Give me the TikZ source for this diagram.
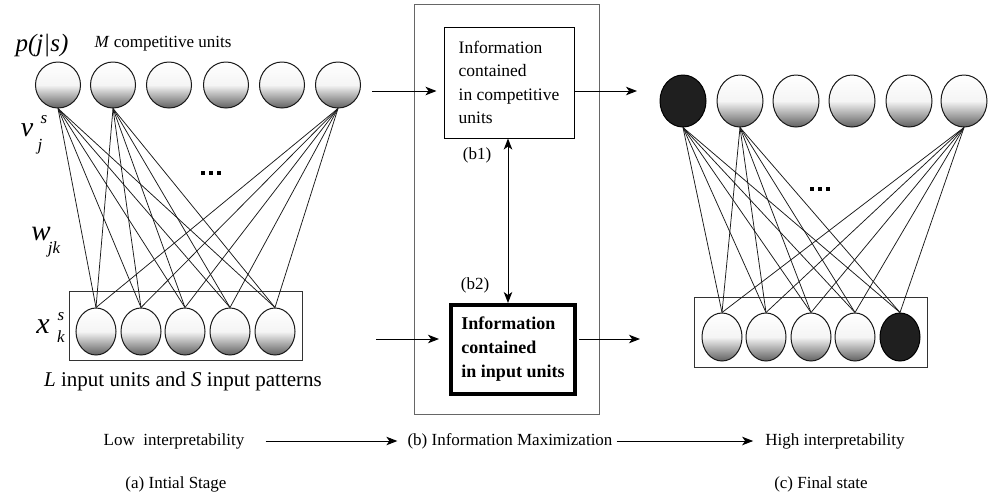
\documentclass[tikz,border=0pt]{standalone}
\usepackage{fontspec}
\setmainfont{Liberation Serif}[UprightFont=* ,BoldFont=* Bold,ItalicFont=* Italic,BoldItalicFont=* Bold Italic]
\usetikzlibrary{shapes.geometric,arrows.meta}
\begin{document}
\begin{tikzpicture}[x=1pt,y=-1pt,
  unit/.style={ellipse,draw=black!90,line width=1pt,inner sep=0pt,
    top color=white,bottom color=black!62,middle color=black!4},
  blackunit/.style={ellipse,draw=black,line width=1pt,inner sep=0pt,fill=black!88},
  topL/.style={minimum width=45pt,minimum height=46pt},
  topR/.style={minimum width=46pt,minimum height=52pt},
  botL/.style={minimum width=40pt,minimum height=47pt},
  botR/.style={minimum width=40pt,minimum height=48pt},
  inbox/.style={draw=black!80,line width=0.9pt,inner sep=0pt,minimum width=233pt,minimum height=69pt},
  conn/.style={line width=0.75pt,draw=black!90},
  arr/.style={line width=1pt,-{Stealth[length=11pt,width=8.5pt,inset=3pt]}},
  dblarr/.style={line width=1pt,{Stealth[length=11pt,width=8.5pt,inset=3pt]}-{Stealth[length=11pt,width=8.5pt,inset=3pt]}},
  txt/.style={inner sep=0pt,font=\rmfamily\fontsize{17}{21}\selectfont},
  dot/.style={fill=black,inner sep=0pt,minimum size=4.5pt}
]
\useasboundingbox (0,0) rectangle (988,496);

% ---------- left panel ----------
\node[inbox] (inL) at (185.5,325.5) {};
\foreach \i/\x in {1/58,2/113,3/169,4/226,5/282,6/338}
  \node[unit,topL] (a\i) at (\x,85) {};
\foreach \i/\x in {1/96,2/141,3/185,4/230,5/275}
  \node[unit,botL] (b\i) at (\x,331.5) {};
\foreach \t in {1,2,6}
  \foreach \b in {1,...,5}
    \draw[conn] (a\t.south) -- (b\b.north);
\node[dot] (dl1) at (203,173) {};
\node[dot] (dl2) at (211,173) {};
\node[dot] (dl3) at (219,173) {};

\node[inner sep=0pt,font=\rmfamily\fontsize{25}{25}\selectfont\itshape] (pjs) at (42,46) {p(j|s)};
\node[txt] (mcu) at (163,44) {\textit{M} competitive units};
\node[inner sep=0pt,font=\rmfamily\fontsize{28}{28}\selectfont\itshape] (vv) at (27,130) {v};
\node[inner sep=0pt,font=\rmfamily\fontsize{17}{17}\selectfont\itshape] (vs) at (44,120) {s};
\node[inner sep=0pt,font=\rmfamily\fontsize{17}{17}\selectfont\itshape] (vj) at (40,147) {j};
\node[inner sep=0pt,font=\rmfamily\fontsize{29}{29}\selectfont\itshape] (ww) at (41,234) {w};
\node[inner sep=0pt,font=\rmfamily\fontsize{17}{17}\selectfont\itshape] (wjk) at (54,249) {jk};
\node[inner sep=0pt,font=\rmfamily\fontsize{30}{30}\selectfont\itshape] (xx) at (43,327) {x};
\node[inner sep=0pt,font=\rmfamily\fontsize{17}{17}\selectfont\itshape] (xs) at (61,317) {s};
\node[inner sep=0pt,font=\rmfamily\fontsize{17}{17}\selectfont\itshape] (xk) at (61,337) {k};
\node[inner sep=0pt,font=\rmfamily\fontsize{21}{21}\selectfont] (lin) at (183,381) {\textit{L} input units and \textit{S} input patterns};

% ---------- middle panel ----------
\node[draw=black!60,line width=1pt,inner sep=0pt,minimum width=185pt,minimum height=410pt] (outer) at (506.5,209) {};
\node[draw=black,line width=1pt,inner sep=0pt,minimum width=130pt,minimum height=111pt,
      align=left,font=\rmfamily\fontsize{17.5}{23.5}\selectfont] (topbox) at (509,82.5)
      {Information\\contained\\in competitive\\units};
\node[draw=black,line width=4pt,inner sep=0pt,minimum width=124pt,minimum height=89pt,
      align=left,font=\rmfamily\fontsize{18}{24}\selectfont\bfseries] (botbox) at (513,349.5)
      {Information\\contained\\in input units};
\coordinate (inA) at (372,91);
\coordinate (outA) at (637,91);
\coordinate (inB) at (376,339);
\coordinate (outB) at (640,339);
\draw[arr,shorten >=7pt] (inA) -- (inA -| topbox.west);
\draw[arr] (topbox.east |- outA) -- (outA);
\draw[arr,shorten >=10pt] (inB) -- (inB -| botbox.west);
\draw[arr,shorten <=2pt] (botbox.east |- outB) -- (outB);
\draw[dblarr] (topbox.south -| 508,0) -- (botbox.north -| 508,0);
\node[txt] (lb1) at (477,155) {(b1)};
\node[txt] (lb2) at (475,285) {(b2)};

% ---------- right panel ----------
\node[inbox,minimum height=70pt] (inR) at (810.5,332) {};
\node[blackunit,topR] (c1) at (683,101) {};
\foreach \i/\x in {2/740,3/796,4/852,5/909,6/964}
  \node[unit,topR] (c\i) at (\x,101) {};
\foreach \i/\x in {1/722,2/766,3/811,4/855}
  \node[unit,botR] (d\i) at (\x,337) {};
\node[blackunit,botR] (d5) at (900,337) {};
\foreach \t in {1,2,6}
  \foreach \b in {1,...,5}
    \draw[conn] (c\t.south) -- (d\b.north);
\node[dot] (dr1) at (812,189) {};
\node[dot] (dr2) at (820,189) {};
\node[dot] (dr3) at (828,189) {};

% ---------- bottom captions ----------
\node[txt] (low) at (174,441) {Low~ interpretability};
\node[txt] (bim) at (510,441) {(b) Information Maximization};
\node[txt] (high) at (835,441) {High interpretability};
\node[txt] (ca) at (176,484) {(a) Intial Stage};
\node[txt] (cc) at (821,484) {(c) Final state};
\draw[arr,shorten <=21pt,shorten >=10pt] (low.east) -- (bim.west);
\draw[arr,shorten <=4pt,shorten >=12pt] (bim.east) -- (high.west);
\end{tikzpicture}
\end{document}
